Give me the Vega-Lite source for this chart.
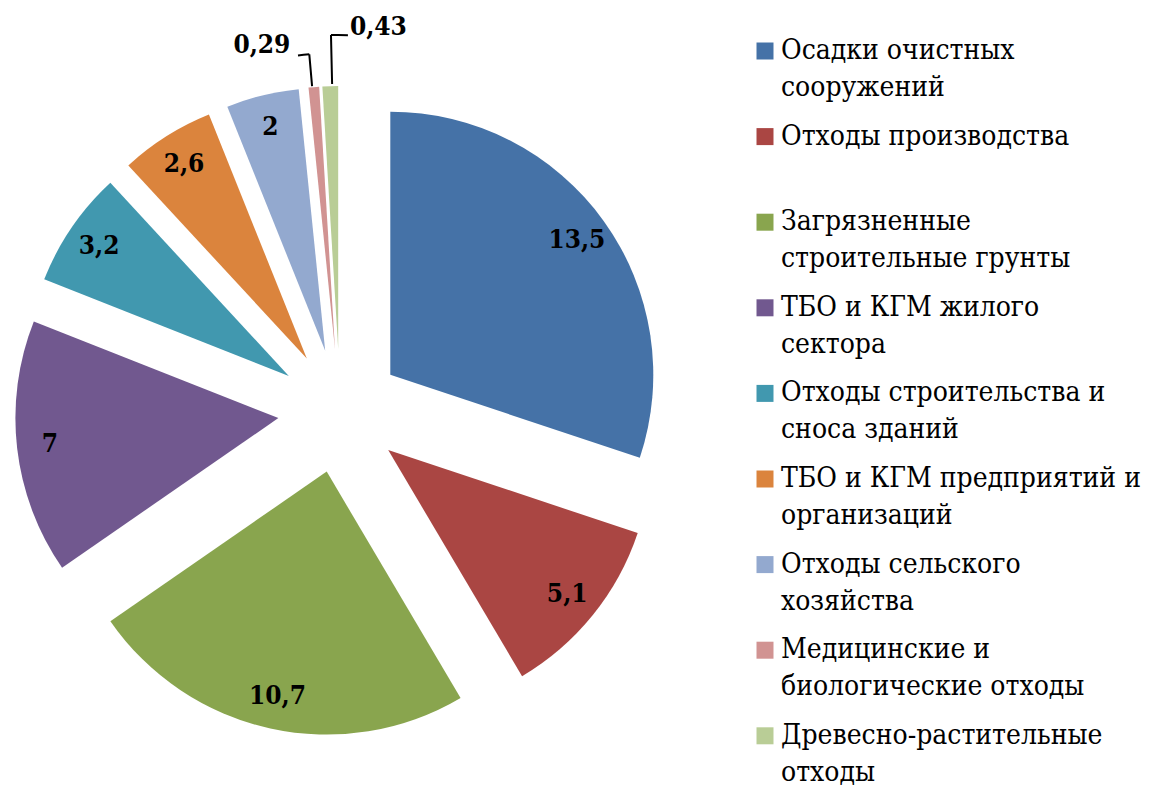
{
  "$schema": "https://vega.github.io/schema/vega-lite/v6.json",
  "width": 680,
  "height": 758,
  "autosize": {"type": "none"},
  "padding": {"left": 0, "top": 32, "right": 474, "bottom": 0},
  "background": "white",
  "config": {
    "view": {"stroke": null},
    "locale": {"number": {"decimal": ",", "thousands": " ", "grouping": [3], "currency": ["", ""]}},
    "style": {"guide-label": {"lineHeight": 37}}
  },
  "data": {
    "values": [
      {"category": "Осадки очистных сооружений", "value": 13.5},
      {"category": "Отходы производства", "value": 5.1},
      {"category": "Загрязненные строительные грунты", "value": 10.7},
      {"category": "ТБО и КГМ жилого сектора", "value": 7},
      {"category": "Отходы строительства и сноса зданий", "value": 3.2},
      {"category": "ТБО и КГМ предприятий и организаций", "value": 2.6},
      {"category": "Отходы сельского хозяйства", "value": 2},
      {"category": "Медицинские и биологические отходы", "value": 0.29},
      {"category": "Древесно-растительные отходы", "value": 0.43}
    ]
  },
  "transform": [{"stack": "value", "groupby": [], "as": ["v0", "v1"]}],
  "encoding": {
    "color": {
      "field": "category",
      "type": "nominal",
      "scale": {
        "domain": ["Осадки очистных сооружений", "Отходы производства", "Загрязненные строительные грунты", "ТБО и КГМ жилого сектора", "Отходы строительства и сноса зданий", "ТБО и КГМ предприятий и организаций", "Отходы сельского хозяйства", "Медицинские и биологические отходы", "Древесно-растительные отходы"],
        "range": ["#4572A7", "#AA4643", "#89A54E", "#71588F", "#4198AF", "#DB843D", "#93A9CF", "#D19392", "#B9CD96"]
      },
      "legend": {
        "title": null,
        "orient": "none",
        "legendX": 751,
        "legendY": 5,
        "symbolType": "square",
        "symbolSize": 289,
        "symbolStrokeWidth": 0,
        "symbolOpacity": 1,
        "labelFont": "DejaVu Serif Condensed, DejaVu Serif",
        "labelFontSize": 28,
        "labelColor": "black",
        "labelLimit": 0,
        "labelOffset": 2,
        "labelBaseline": "middle",
        "rowPadding": 20.6,
        "labelExpr": "{'Осадки очистных сооружений':['Осадки очистных','сооружений'],'Отходы производства':['Отходы производства',''],'Загрязненные строительные грунты':['Загрязненные','строительные грунты'],'ТБО и КГМ жилого сектора':['ТБО и КГМ жилого','сектора'],'Отходы строительства и сноса зданий':['Отходы строительства и','сноса зданий'],'ТБО и КГМ предприятий и организаций':['ТБО и КГМ предприятий и','организаций'],'Отходы сельского хозяйства':['Отходы сельского','хозяйства'],'Медицинские и биологические отходы':['Медицинские и','биологические отходы'],'Древесно-растительные отходы':['Древесно-растительные','отходы']}[datum.label]"
      }
    }
  },
  "layer": [
    {"transform": [{"filter": {"field": "category", "equal": "Осадки очистных сооружений"}}],
     "mark": {"type": "arc", "radius": 263, "xOffset": 50.3, "yOffset": -36.3},
     "encoding": {"theta": {"field": "v0", "type": "quantitative"}, "theta2": {"field": "v1"}}},
    {"transform": [{"filter": {"field": "category", "equal": "Отходы производства"}}],
     "mark": {"type": "arc", "radius": 263, "xOffset": 48.2, "yOffset": 38.9},
     "encoding": {"theta": {"field": "v0", "type": "quantitative"}, "theta2": {"field": "v1"}}},
    {"transform": [{"filter": {"field": "category", "equal": "Загрязненные строительные грунты"}}],
     "mark": {"type": "arc", "radius": 263, "xOffset": -13.3, "yOffset": 60.6},
     "encoding": {"theta": {"field": "v0", "type": "quantitative"}, "theta2": {"field": "v1"}}},
    {"transform": [{"filter": {"field": "category", "equal": "ТБО и КГМ жилого сектора"}}],
     "mark": {"type": "arc", "radius": 263, "xOffset": -61.6, "yOffset": 7.1},
     "encoding": {"theta": {"field": "v0", "type": "quantitative"}, "theta2": {"field": "v1"}}},
    {"transform": [{"filter": {"field": "category", "equal": "Отходы строительства и сноса зданий"}}],
     "mark": {"type": "arc", "radius": 263, "xOffset": -51.2, "yOffset": -35.0},
     "encoding": {"theta": {"field": "v0", "type": "quantitative"}, "theta2": {"field": "v1"}}},
    {"transform": [{"filter": {"field": "category", "equal": "ТБО и КГМ предприятий и организаций"}}],
     "mark": {"type": "arc", "radius": 263, "xOffset": -33.2, "yOffset": -52.4},
     "encoding": {"theta": {"field": "v0", "type": "quantitative"}, "theta2": {"field": "v1"}}},
    {"transform": [{"filter": {"field": "category", "equal": "Отходы сельского хозяйства"}}],
     "mark": {"type": "arc", "radius": 263, "xOffset": -14.8, "yOffset": -60.2},
     "encoding": {"theta": {"field": "v0", "type": "quantitative"}, "theta2": {"field": "v1"}}},
    {"transform": [{"filter": {"field": "category", "equal": "Медицинские и биологические отходы"}}],
     "mark": {"type": "arc", "radius": 263, "xOffset": -5.0, "yOffset": -61.8},
     "encoding": {"theta": {"field": "v0", "type": "quantitative"}, "theta2": {"field": "v1"}}},
    {"transform": [{"filter": {"field": "category", "equal": "Древесно-растительные отходы"}}],
     "mark": {"type": "arc", "radius": 263, "xOffset": -1.8, "yOffset": -62.0},
     "encoding": {"theta": {"field": "v0", "type": "quantitative"}, "theta2": {"field": "v1"}}},
    {"transform": [{"filter": {"field": "category", "equal": "Медицинские и биологические отходы"}}],
     "mark": {"type": "arc", "filled": false, "strokeWidth": 2, "radius": 296, "radius2": 264, "thetaOffset": 0.014, "theta2Offset": 0.014, "xOffset": -5.0, "yOffset": -61.8},
     "encoding": {"theta": {"field": "v0", "type": "quantitative"}, "theta2": {"field": "v0"}, "color": {"value": "black"}}},
    {"transform": [{"filter": {"field": "category", "equal": "Медицинские и биологические отходы"}}],
     "mark": {"type": "arc", "filled": false, "strokeWidth": 2, "radius": 296, "radius2": 296, "thetaOffset": -0.0244, "theta2Offset": 0.014, "xOffset": -5.0, "yOffset": -61.8},
     "encoding": {"theta": {"field": "v0", "type": "quantitative"}, "theta2": {"field": "v0"}, "color": {"value": "black"}}},
    {"transform": [{"filter": {"field": "category", "equal": "Древесно-растительные отходы"}}],
     "mark": {"type": "arc", "filled": false, "strokeWidth": 2, "radius": 314, "radius2": 265, "thetaOffset": -0.023, "theta2Offset": -0.023, "xOffset": -1.8, "yOffset": -62.0},
     "encoding": {"theta": {"field": "v1", "type": "quantitative"}, "theta2": {"field": "v1"}, "color": {"value": "black"}}},
    {"transform": [{"filter": {"field": "category", "equal": "Древесно-растительные отходы"}}],
     "mark": {"type": "arc", "filled": false, "strokeWidth": 2, "radius": 314, "radius2": 314, "thetaOffset": -0.023, "theta2Offset": 0.031, "xOffset": -1.8, "yOffset": -62.0},
     "encoding": {"theta": {"field": "v1", "type": "quantitative"}, "theta2": {"field": "v1"}, "color": {"value": "black"}}},
    {"mark": {"type": "text", "radius": 292, "font": "DejaVu Serif Condensed, DejaVu Serif", "fontSize": 26, "fontWeight": "bold"},
     "encoding": {
       "theta": {"field": "value", "type": "quantitative", "stack": true},
       "order": {"field": "v0", "type": "quantitative"},
       "color": {"value": "black"},
       "text": {"field": "value", "type": "quantitative", "format": "~g", "condition": {"test": "datum.value < 1", "value": ""}}
     }},
    {"mark": {"type": "text", "radius": 374, "dx": -48, "dy": 7, "font": "DejaVu Serif Condensed, DejaVu Serif", "fontSize": 26, "fontWeight": "bold"},
     "encoding": {
       "theta": {"field": "value", "type": "quantitative", "stack": true},
       "order": {"field": "v0", "type": "quantitative"},
       "color": {"value": "black"},
       "text": {"field": "value", "type": "quantitative", "format": "~g", "condition": {"test": "datum.value != 0.29", "value": ""}}
     }},
    {"mark": {"type": "text", "radius": 386, "dx": 50, "dy": 2, "font": "DejaVu Serif Condensed, DejaVu Serif", "fontSize": 26, "fontWeight": "bold"},
     "encoding": {
       "theta": {"field": "value", "type": "quantitative", "stack": true},
       "order": {"field": "v0", "type": "quantitative"},
       "color": {"value": "black"},
       "text": {"field": "value", "type": "quantitative", "format": "~g", "condition": {"test": "datum.value != 0.43", "value": ""}}
     }}
  ]
}
